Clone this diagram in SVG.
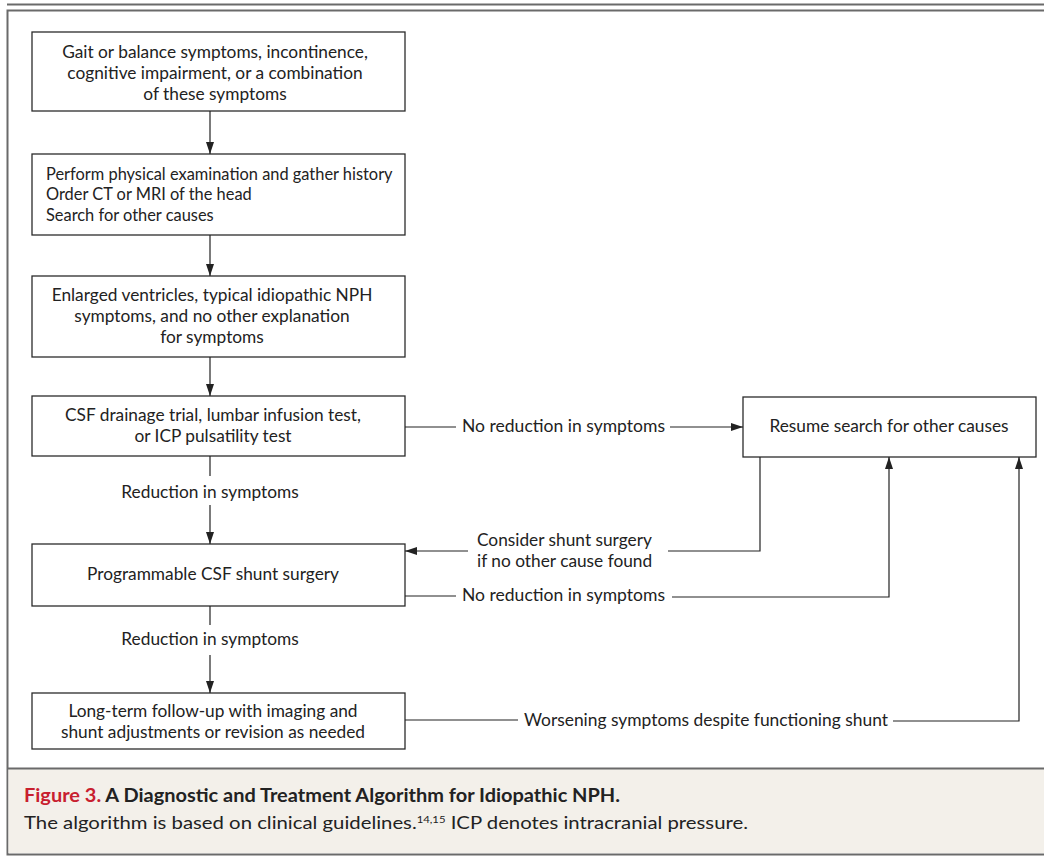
<svg xmlns="http://www.w3.org/2000/svg" width="1044" height="856" viewBox="0 0 1044 856">
<defs>
<style>
.box{fill:#fff;stroke:#2b2b2b;stroke-width:1.3}
.t{font-family:Lato,"Open Sans",sans-serif;font-size:17.3px;fill:#222}
.s{font-size:16.4px}
.c{text-anchor:middle}
.ln{fill:none;stroke:#222;stroke-width:1.2}
.cap{font-family:Lato,"Liberation Sans",sans-serif;font-size:18px;fill:#222}
</style>
<marker id="ah" viewBox="0 0 12 8" refX="12" refY="4" markerWidth="12" markerHeight="8" markerUnits="userSpaceOnUse" orient="auto">
<path d="M0,0 L12,4 L0,8 Z" fill="#222"/>
</marker>
</defs>
<rect width="1044" height="856" fill="#fff"/>
<line x1="7" y1="4.5" x2="1044" y2="4.5" stroke="#6a6a6a" stroke-width="2"/>
<rect x="7.5" y="10.5" width="1046" height="844" fill="none" stroke="#6a6a6a" stroke-width="2"/>
<rect x="8.5" y="769" width="1040" height="84" fill="#f3f0ea"/>
<line x1="7" y1="768.5" x2="1044" y2="768.5" stroke="#6a6a6a" stroke-width="2"/>

<g id="n1"><rect class="box" x="32" y="32" width="373" height="79"/>
<text class="t c" x="215" y="58">Gait or balance symptoms, incontinence,</text>
<text class="t c" x="215" y="79">cognitive impairment, or a combination</text>
<text class="t c" x="215" y="100">of these symptoms</text></g>

<g id="n2"><rect class="box" x="32" y="154" width="373" height="81"/>
<text class="t s" x="46" y="180">Perform physical examination and gather history</text>
<text class="t s" x="46" y="200">Order CT or MRI of the head</text>
<text class="t s" x="46" y="221">Search for other causes</text></g>

<g id="n3"><rect class="box" x="32" y="276" width="373" height="81"/>
<text class="t c" x="212" y="301">Enlarged ventricles, typical idiopathic NPH</text>
<text class="t c" x="212" y="322">symptoms, and no other explanation</text>
<text class="t c" x="212" y="343">for symptoms</text></g>

<g id="n4"><rect class="box" x="32" y="396" width="373" height="60"/>
<text class="t c" x="213" y="421">CSF drainage trial, lumbar infusion test,</text>
<text class="t c" x="213" y="442">or ICP pulsatility test</text></g>

<g id="n5"><rect class="box" x="32" y="544" width="373" height="62"/>
<text class="t c" x="213" y="580">Programmable CSF shunt surgery</text></g>

<g id="n6"><rect class="box" x="32" y="693" width="373" height="56"/>
<text class="t c" x="213" y="717">Long-term follow-up with imaging and</text>
<text class="t c" x="213" y="738">shunt adjustments or revision as needed</text></g>

<g id="n7"><rect class="box" x="743" y="397" width="293" height="60"/>
<text class="t c" x="889" y="432">Resume search for other causes</text></g>

<g id="connectors">
<line class="ln" x1="210" y1="111" x2="210" y2="154" marker-end="url(#ah)"/>
<line class="ln" x1="210" y1="235" x2="210" y2="276" marker-end="url(#ah)"/>
<line class="ln" x1="210" y1="357" x2="210" y2="396" marker-end="url(#ah)"/>
<line class="ln" x1="210" y1="456" x2="210" y2="476"/>
<line class="ln" x1="210" y1="505" x2="210" y2="544" marker-end="url(#ah)"/>
<line class="ln" x1="210" y1="606" x2="210" y2="625"/>
<line class="ln" x1="210" y1="655" x2="210" y2="693" marker-end="url(#ah)"/>
<line class="ln" x1="405" y1="427" x2="456" y2="427"/>
<line class="ln" x1="670" y1="427" x2="743" y2="427" marker-end="url(#ah)"/>
<polyline class="ln" points="760,457 760,551 668,551"/>
<line class="ln" x1="468" y1="551" x2="405" y2="551" marker-end="url(#ah)"/>
<line class="ln" x1="405" y1="596" x2="456" y2="596"/>
<polyline class="ln" points="672,597 889,597 889,457" marker-end="url(#ah)"/>
<line class="ln" x1="405" y1="720" x2="518" y2="720"/>
<polyline class="ln" points="893,721 1019,721 1019,457" marker-end="url(#ah)"/>
<text class="t c" x="210" y="498">Reduction in symptoms</text>
<text class="t c" x="210" y="645">Reduction in symptoms</text>
<text class="t" x="462" y="432" textLength="203" lengthAdjust="spacingAndGlyphs">No reduction in symptoms</text>
<text class="t" x="462" y="601" textLength="203" lengthAdjust="spacingAndGlyphs">No reduction in symptoms</text>
<text class="t" x="477" y="546">Consider shunt surgery</text>
<text class="t" x="477" y="567">if no other cause found</text>
<text class="t" x="524" y="726" textLength="364" lengthAdjust="spacingAndGlyphs">Worsening symptoms despite functioning shunt</text>
</g>

<g id="caption">
<text class="cap" x="24" y="802" font-weight="bold" textLength="596" lengthAdjust="spacingAndGlyphs"><tspan fill="#c8202f">Figure 3.</tspan> A Diagnostic and Treatment Algorithm for Idiopathic NPH.</text>
<text class="cap" x="24" y="829" textLength="724" lengthAdjust="spacingAndGlyphs">The algorithm is based on clinical guidelines.<tspan font-size="10" dy="-6">14,15</tspan><tspan dy="6"> ICP denotes intracranial pressure.</tspan></text>
</g>
</svg>
